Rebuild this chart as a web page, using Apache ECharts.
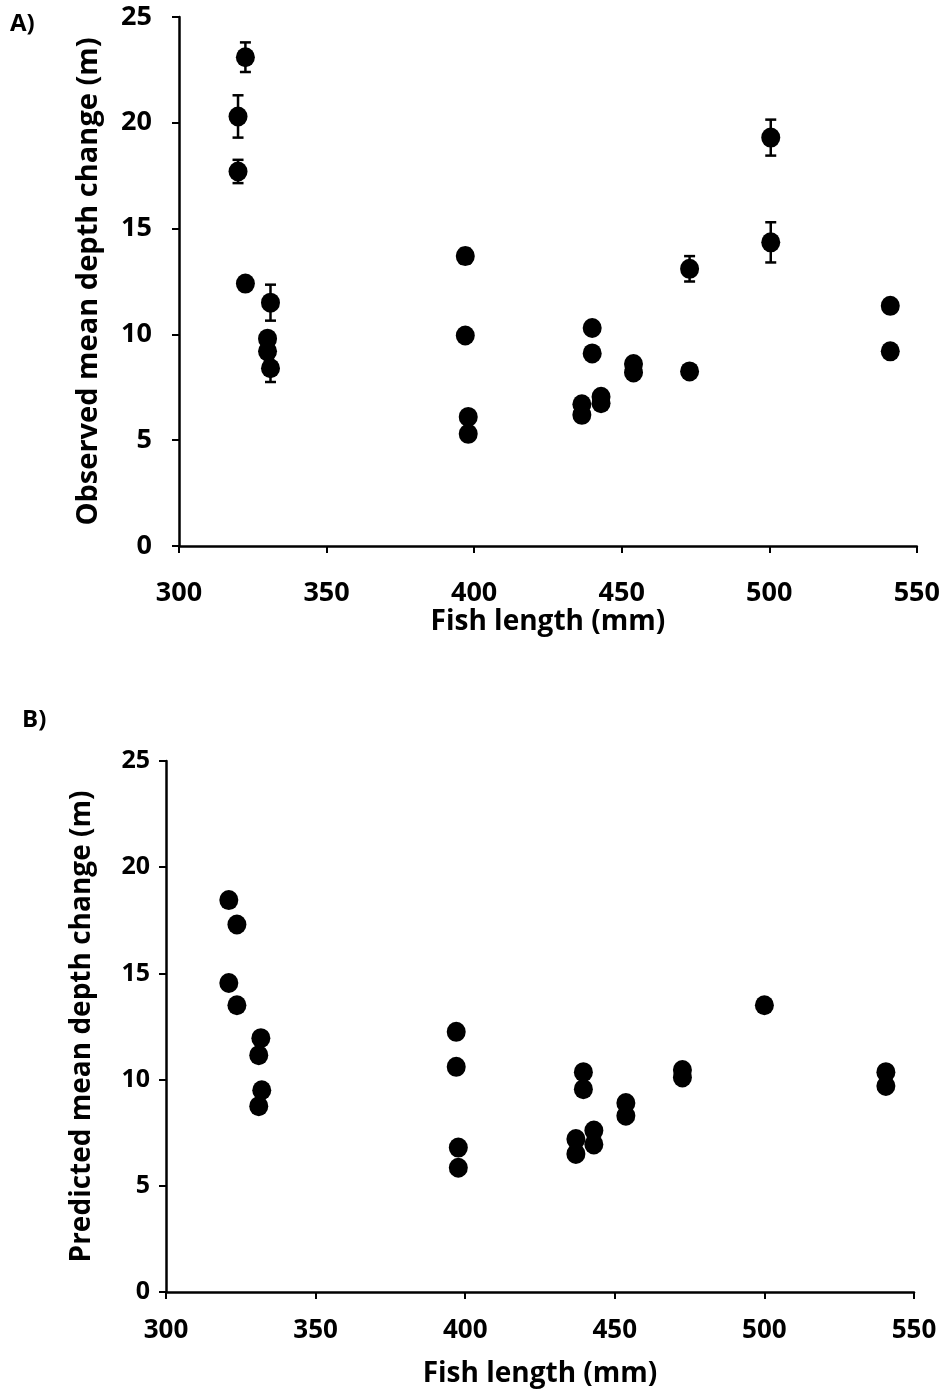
<!DOCTYPE html>
<html>
<head>
<meta charset="utf-8">
<script src="https://cdn.jsdelivr.net/npm/echarts@6/dist/echarts.min.js"></script>
<style>
  html, body { margin: 0; padding: 0; background: #ffffff; }
  #chart { width: 943px; height: 1392px; }
</style>
</head>
<body>
<div id="chart"></div>
<script>
// Panel A: observed mean depth change per fish (with error bars)
const lengthA = [322.5, 320, 320, 322.5, 331, 330, 330, 331,
                 397, 397, 398, 398, 440, 440, 436.5, 436.5, 443, 443,
                 454, 454, 473, 473, 500.5, 500.5, 541, 541];
const observedDepth = [23.1, 20.3, 17.7, 12.4, 11.5, 9.8, 9.2, 8.4,
                       13.7, 9.95, 6.1, 5.3, 10.3, 9.1, 6.7, 6.2, 6.75, 7.05,
                       8.6, 8.2, 13.1, 8.25, 19.3, 14.35, 11.35, 9.2];
const observedErr = [0.7, 1.0, 0.55, 0.3, 0.85, 0.3, 0.3, 0.65,
                     0.35, 0.2, 0.2, 0.2, 0.2, 0.3, 0.2, 0.2, 0.2, 0.2,
                     0.2, 0.2, 0.6, 0.2, 0.85, 0.95, 0.2, 0.2];

// Panel B: predicted mean depth change per fish
const lengthB = [321, 323.7, 321, 323.7, 331.7, 331, 332, 331,
                 397, 397, 397.7, 397.7, 439.5, 439.5, 437, 437, 443, 443,
                 453.7, 453.7, 472.6, 472.6, 500, 540.6, 540.6];
const predictedDepth = [18.45, 17.3, 14.55, 13.5, 11.95, 11.15, 9.5, 8.75,
                        12.25, 10.6, 6.8, 5.85, 10.35, 9.55, 7.2, 6.5, 7.6, 6.95,
                        8.9, 8.3, 10.45, 10.1, 13.5, 10.35, 9.7];

// Axis ticks
const xTicks = [300, 350, 400, 450, 500, 550];
const yTicks = [0, 5, 10, 15, 20, 25];

const FONT = '"Open Sans", "Noto Sans", sans-serif';
const INK = '#000000';

const pairsA = lengthA.map((x, i) => [x, observedDepth[i]]);
const barsA = lengthA.map((x, i) => [x, observedDepth[i] - observedErr[i], observedDepth[i] + observedErr[i]]);
const pairsB = lengthB.map((x, i) => [x, predictedDepth[i]]);

function xAxisDef(gridIndex, labelMargin, nameGap, fontSize, nameSize) {
  return {
    type: 'value', gridIndex,
    min: xTicks[0], max: xTicks[xTicks.length - 1], interval: xTicks[1] - xTicks[0],
    name: 'Fish length (mm)', nameLocation: 'middle', nameGap,
    nameTextStyle: { fontFamily: FONT, fontWeight: 700, fontSize: nameSize, color: INK },
    axisLine: { show: true, onZero: false, lineStyle: { color: INK, width: 2.5 } },
    axisTick: { show: true, inside: false, length: 7, lineStyle: { color: INK, width: 2 } },
    axisLabel: { margin: labelMargin, fontFamily: FONT, fontWeight: 700, fontSize, color: INK },
    splitLine: { show: false }
  };
}

function yAxisDef(gridIndex, name, labelMargin, nameGap, fontSize, nameSize) {
  return {
    type: 'value', gridIndex,
    min: yTicks[0], max: yTicks[yTicks.length - 1], interval: yTicks[1] - yTicks[0],
    name, nameLocation: 'middle', nameGap,
    nameTextStyle: { fontFamily: FONT, fontWeight: 700, fontSize: nameSize, color: INK },
    axisLine: { show: true, onZero: false, lineStyle: { color: INK, width: 2.5 } },
    axisTick: { show: true, inside: false, length: 7, lineStyle: { color: INK, width: 2 } },
    axisLabel: { margin: labelMargin, fontFamily: FONT, fontWeight: 700, fontSize, color: INK },
    splitLine: { show: false }
  };
}

const chart = echarts.init(document.getElementById('chart'), null, { renderer: 'canvas' });

chart.setOption({
  backgroundColor: '#ffffff',
  animation: false,
  graphic: [
    { type: 'text', left: 10, top: 12, style: { text: 'A)', fontFamily: FONT, fontWeight: 700, fontSize: 24, fill: INK } },
    { type: 'text', left: 22, top: 708, style: { text: 'B)', fontFamily: FONT, fontWeight: 700, fontSize: 24, fill: INK } }
  ],
  grid: [
    { left: 179, top: 17, width: 741, height: 529, containLabel: false },
    { left: 166, top: 761, width: 748, height: 531, containLabel: false }
  ],
  xAxis: [xAxisDef(0, 34, 58, 27, 28), xAxisDef(1, 26, 68, 26, 28)],
  yAxis: [
    yAxisDef(0, 'Observed mean depth change (m)', 27, 76, 27, 29),
    yAxisDef(1, 'Predicted mean depth change (m)', 16, 70, 25, 28)
  ],
  series: [
    {
      type: 'custom', xAxisIndex: 0, yAxisIndex: 0, z: 2,
      data: barsA,
      renderItem: function (params, api) {
        const x = api.value(0);
        const lo = api.coord([x, api.value(1)]);
        const hi = api.coord([x, api.value(2)]);
        const cap = 5.5;
        const style = { stroke: INK, lineWidth: 2.5 };
        return {
          type: 'group',
          children: [
            { type: 'line', shape: { x1: lo[0], y1: lo[1], x2: hi[0], y2: hi[1] }, style },
            { type: 'line', shape: { x1: lo[0] - cap, y1: lo[1], x2: lo[0] + cap, y2: lo[1] }, style },
            { type: 'line', shape: { x1: hi[0] - cap, y1: hi[1], x2: hi[0] + cap, y2: hi[1] }, style }
          ]
        };
      }
    },
    {
      type: 'scatter', xAxisIndex: 0, yAxisIndex: 0, z: 3,
      data: pairsA, symbol: 'circle', symbolSize: [19, 20],
      itemStyle: { color: INK, opacity: 1 }
    },
    {
      type: 'scatter', xAxisIndex: 1, yAxisIndex: 1, z: 3,
      data: pairsB, symbol: 'circle', symbolSize: [19, 20],
      itemStyle: { color: INK, opacity: 1 }
    }
  ]
});
</script>
</body>
</html>
